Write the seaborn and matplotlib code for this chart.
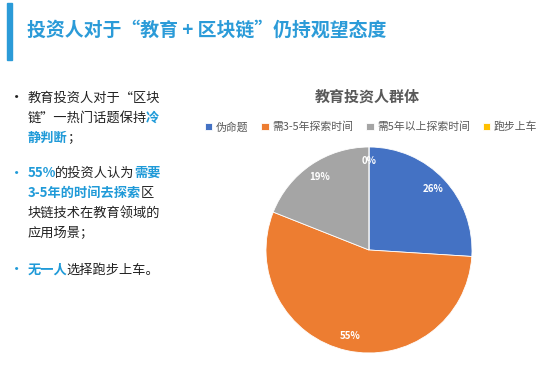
import matplotlib.pyplot as plt
import seaborn as sns
from matplotlib.patches import Rectangle

# Data
categories = ['伪命题', '需3-5年探索时间', '需5年以上探索时间', '跑步上车']
shares = [26, 55, 19, 0]
colors = ['#4472C4', '#ED7D31', '#A5A5A5', '#FFC000']

title = '投资人对于“教育 + 区块链”仍持观望态度'
chart_title = '教育投资人群体'
BLUE = '#1f9ad8'
DARK = '#222222'

# bullet lines: list of (text, highlighted) segments
bullets = [
    (DARK, [
        [('教育投资人对于“区块', False)],
        [('链”一热门话题保持', False), ('冷', True)],
        [('静判断', True), ('；', False)],
    ]),
    (BLUE, [
        [('55%', True), ('的投资人认为', False), ('需要', True)],
        [('3-5年的时间去探索', True), ('区', False)],
        [('块链技术在教育领域的', False)],
        [('应用场景；', False)],
    ]),
    (BLUE, [
        [('无一人', True), ('选择跑步上车。', False)],
    ]),
]
bullet_y = [98, 173, 270]

sns.set_theme(style='white')
plt.rcParams['font.family'] = ['Noto Sans CJK SC', 'DejaVu Sans']

W, H = 550, 373
fig = plt.figure(figsize=(W / 100, H / 100), dpi=100)
fig.patch.set_facecolor('white')

def fx(px):
    return px / W

def fy(py):
    return 1 - py / H

# header
fig.patches.append(Rectangle((fx(7), fy(60)), fx(5), 57 / H, transform=fig.transFigure,
                             color='#2b9bd8', zorder=1))
fig.text(fx(27), fy(30), title, fontsize=13.6, fontweight='bold', color='#2b9bd8',
         va='center', ha='left')

# left text block, highlighted pieces chained after each other
line_h = 20
for (bcol, lines), y0 in zip(bullets, bullet_y):
    fig.text(fx(9), fy(y0), '•', fontsize=11, color=bcol, va='center', ha='left')
    for i, segs in enumerate(lines):
        y = y0 + i * line_h
        last = None
        for txt, hl in segs:
            kw = dict(fontsize=9.5, color=BLUE if hl else DARK,
                      fontweight='bold' if hl else 'normal', va='center', ha='left')
            if last is None:
                last = fig.text(fx(28), fy(y), txt, **kw)
            else:
                last = fig.add_artist(plt.Annotation(txt, xy=(1, 0.5), xycoords=last,
                                                     xytext=(-1, 0),
                                                     textcoords='offset pixels', **kw))

# pie
cx, cy, r = 369, 250, 103
ax = fig.add_axes([fx(cx - r), (H - cy - r) / H, 2 * r / W, 2 * r / H])
wedges, texts, autotexts = ax.pie(
    shares, colors=colors, startangle=90, counterclock=False,
    autopct='%d%%', pctdistance=0.86,
    wedgeprops=dict(edgecolor='white', linewidth=0.6),
    textprops=dict(color='white', fontsize=7, fontweight='bold'))
ax.set_xlim(-1, 1)
ax.set_ylim(-1, 1)
ax.set_aspect('equal')

fig.text(fx(367), fy(97), chart_title, fontsize=10.8, fontweight='bold', color='#595959',
         ha='center', va='center')
fig.legend(wedges, categories, loc='center', bbox_to_anchor=(fx(371), fy(127)),
           ncol=4, frameon=False, fontsize=7.8, labelcolor='#595959',
           handlelength=0.7, handleheight=0.7, handletextpad=0.3, columnspacing=1.2)

fig.savefig('out.png', dpi=100)
